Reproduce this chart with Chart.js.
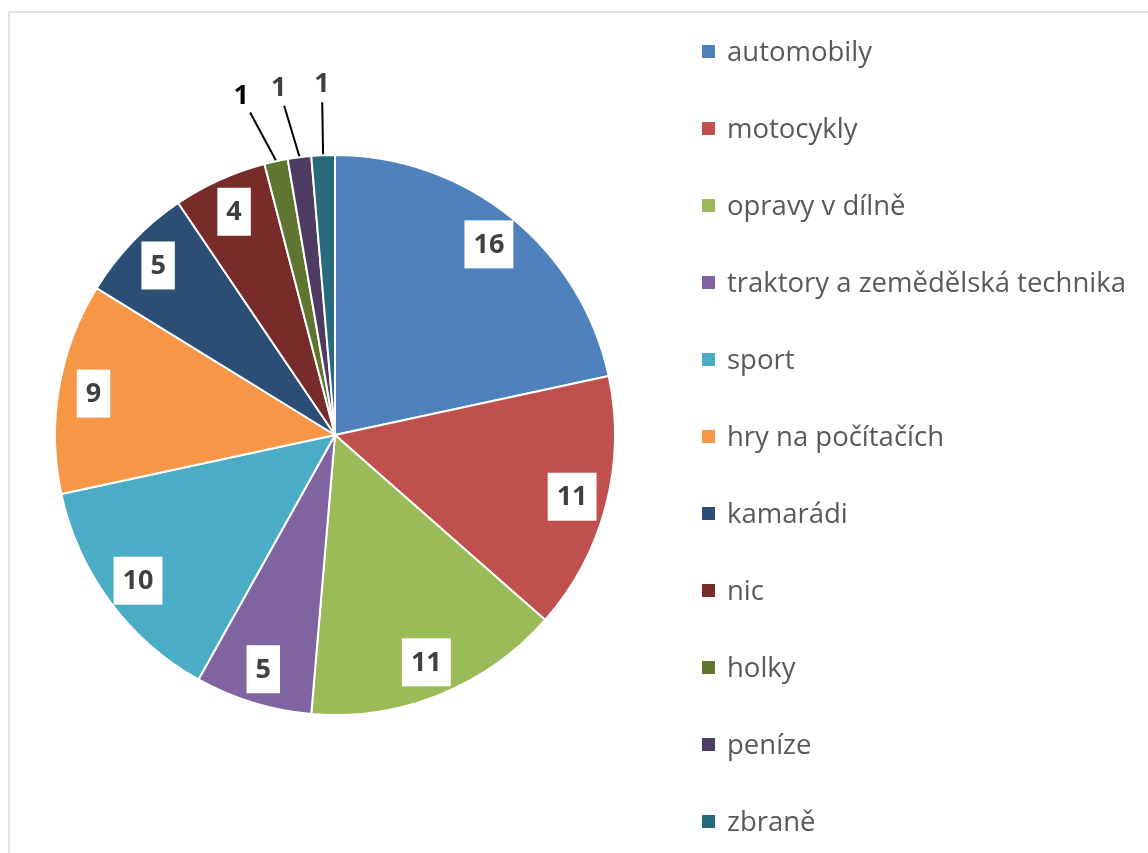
<!DOCTYPE html>
<html lang="cs">
<head>
    <meta charset="UTF-8">
    <title>Koláčový graf</title>
    <script src="https://cdn.jsdelivr.net/npm/chart.js"></script>
    <style>
        body {
            margin: 0;
            background: #fff;
            font-family: 'Open Sans', sans-serif;
        }
        .chart-box {
            width: 1148px;
            height: 853px;
            position: relative;
        }
    </style>
</head>
<body>
    <div class="chart-box">
        <canvas id="pieChart"></canvas>
    </div>

    <script>
        // data
        const categories = ['automobily', 'motocykly', 'opravy v dílně', 'traktory a zemědělská technika',
            'sport', 'hry na počítačích', 'kamarádi', 'nic', 'holky', 'peníze', 'zbraně'];
        const counts = [16, 11, 11, 5, 10, 9, 5, 4, 1, 1, 1];
        const sliceColors = ['#4F81BD', '#C0504D', '#9BBB59', '#8064A2', '#4BACC6', '#F79646',
            '#2C4D75', '#772C2A', '#5F7530', '#4D3B62', '#276A7C'];

        // small slices get their label outside with a leader line; degrees of sideways nudge
        const outsideNudge = { 8: -3.3, 9: -1.9, 10: 0.3 };

        const pieExtras = {
            id: 'pieExtras',
            beforeDraw(chart) {
                const ctx = chart.ctx;
                ctx.save();
                ctx.strokeStyle = '#d9d9d9';
                ctx.lineWidth = 1.5;
                ctx.beginPath();
                ctx.moveTo(9, 853);
                ctx.lineTo(9, 12);
                ctx.lineTo(1148, 12);
                ctx.stroke();
                ctx.restore();
            },
            afterDatasetsDraw(chart) {
                const ctx = chart.ctx;
                const meta = chart.getDatasetMeta(0);
                const values = chart.data.datasets[0].data;
                ctx.save();
                ctx.font = 'bold 27px "Open Sans"';
                ctx.textAlign = 'center';
                ctx.textBaseline = 'middle';

                meta.data.forEach((arc, i) => {
                    const p = arc.getProps(['x', 'y', 'startAngle', 'endAngle', 'outerRadius'], true);
                    const mid = (p.startAngle + p.endAngle) / 2;
                    const txt = String(values[i]);

                    if (outsideNudge[i] !== undefined) {
                        const a = mid + outsideNudge[i] * Math.PI / 180;
                        const lr = p.outerRadius + 72;
                        const lx = p.x + Math.cos(a) * lr;
                        const ly = p.y + Math.sin(a) * lr;
                        const ex = p.x + Math.cos(mid) * (p.outerRadius + 1);
                        const ey = p.y + Math.sin(mid) * (p.outerRadius + 1);
                        const dx = lx - ex, dy = ly - ey;
                        const len = Math.hypot(dx, dy);
                        const k = (len - 19) / len;
                        ctx.strokeStyle = '#000';
                        ctx.lineWidth = 2;
                        ctx.beginPath();
                        ctx.moveTo(ex, ey);
                        ctx.lineTo(ex + dx * k, ey + dy * k);
                        ctx.stroke();
                        ctx.fillStyle = i === 8 ? '#000' : '#404040';
                        ctx.fillText(txt, lx, ly + 1);
                    } else {
                        const r = p.outerRadius * 0.875;
                        const cx = p.x + Math.cos(mid) * r;
                        const cy = p.y + Math.sin(mid) * r;
                        const w = ctx.measureText(txt).width + 18;
                        const h = 48;
                        ctx.fillStyle = '#fff';
                        ctx.fillRect(cx - w / 2, cy - h / 2, w, h);
                        ctx.fillStyle = '#404040';
                        ctx.fillText(txt, cx, cy + 1);
                    }
                });

                // legend on the right
                ctx.font = '27.5px "Open Sans"';
                ctx.textAlign = 'left';
                ctx.textBaseline = 'alphabetic';
                chart.data.labels.forEach((name, i) => {
                    const y = 51.5 + i * 77;
                    ctx.fillStyle = sliceColors[i];
                    ctx.fillRect(702, y - 6.5, 13, 13);
                    ctx.fillStyle = '#595959';
                    ctx.fillText(name, 727, y + 9);
                });
                ctx.restore();
            }
        };

        new Chart(document.getElementById('pieChart'), {
            type: 'pie',
            data: {
                labels: categories,
                datasets: [{
                    data: counts,
                    backgroundColor: sliceColors,
                    borderColor: '#ffffff',
                    borderWidth: 2
                }]
            },
            options: {
                responsive: true,
                maintainAspectRatio: false,
                animation: false,
                layout: {
                    padding: { left: 54, right: 532, top: 154, bottom: 137 }
                },
                plugins: {
                    legend: { display: false },
                    tooltip: { enabled: false }
                }
            },
            plugins: [pieExtras]
        });
    </script>
</body>
</html>
